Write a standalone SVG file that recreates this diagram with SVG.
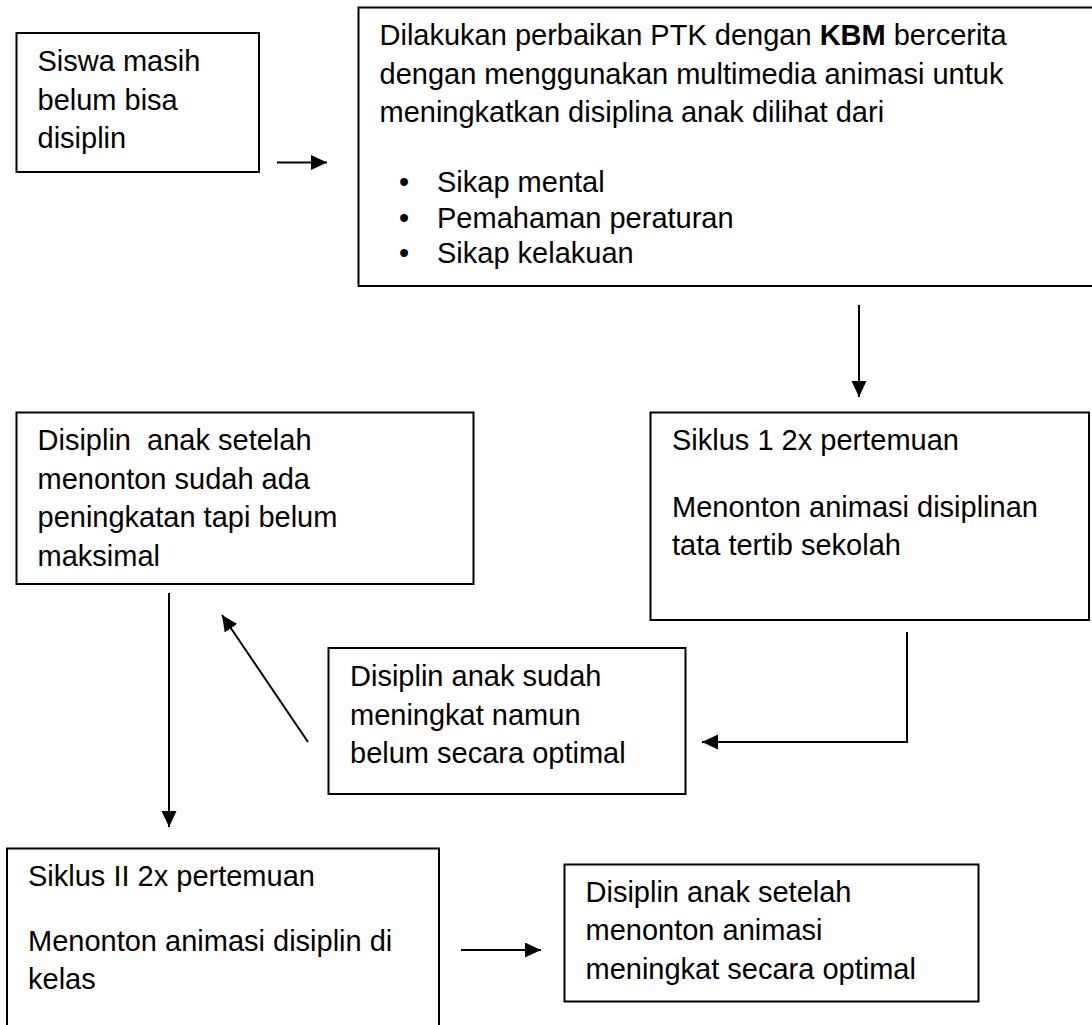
<svg xmlns="http://www.w3.org/2000/svg" width="1092" height="1025" viewBox="0 0 1092 1025">
<defs>
<style>
.box{fill:#fff;stroke:#000;stroke-width:2}
.t{font-family:"Liberation Sans",Arial,sans-serif;font-size:29px;fill:#000;white-space:pre}
.b{font-weight:bold}
.c{fill:none;stroke:#000;stroke-width:2}
</style>
<marker id="ah" markerUnits="userSpaceOnUse" markerWidth="18" markerHeight="18" refX="16" refY="7.5" orient="auto">
<path d="M0,0 L16,7.5 L0,15 Z" fill="#000"/>
</marker>
</defs>
<rect width="1092" height="1025" fill="#fff"/>
<g id="n1">
<rect class="box" x="16.5" y="33" width="242.5" height="139"/>
<text class="t" x="37.5" y="71">Siswa masih</text>
<text class="t" x="37.5" y="109.5">belum bisa</text>
<text class="t" x="37.5" y="148">disiplin</text>
</g>
<g id="n2">
<rect class="box" x="358.5" y="7.5" width="740" height="278.5"/>
<text class="t" x="379.5" y="45">Dilakukan perbaikan PTK dengan <tspan class="b">KBM</tspan> bercerita</text>
<text class="t" x="379.5" y="83.5">dengan menggunakan multimedia animasi untuk</text>
<text class="t" x="379.5" y="122">meningkatkan disiplina anak dilihat dari</text>
<text class="t" x="399" y="192">•</text>
<text class="t" x="437" y="192">Sikap mental</text>
<text class="t" x="399" y="227.5">•</text>
<text class="t" x="437" y="227.5">Pemahaman peraturan</text>
<text class="t" x="399" y="263">•</text>
<text class="t" x="437" y="263">Sikap kelakuan</text>
</g>
<g id="n3">
<rect class="box" x="650.5" y="412.5" width="438.5" height="207.5"/>
<text class="t" x="672" y="450">Siklus 1 2x pertemuan</text>
<text class="t" x="672" y="516.5">Menonton animasi disiplinan</text>
<text class="t" x="672" y="555">tata tertib sekolah</text>
</g>
<g id="n4">
<rect class="box" x="16.5" y="412.5" width="457" height="171.5"/>
<text class="t" x="37.5" y="450">Disiplin  anak setelah</text>
<text class="t" x="37.5" y="488.5">menonton sudah ada</text>
<text class="t" x="37.5" y="527">peningkatan tapi belum</text>
<text class="t" x="37.5" y="565.5">maksimal</text>
</g>
<g id="n5">
<rect class="box" x="328.5" y="648" width="357" height="146"/>
<text class="t" x="350" y="686">Disiplin anak sudah</text>
<text class="t" x="350" y="724.5">meningkat namun</text>
<text class="t" x="350" y="762.5">belum secara optimal</text>
</g>
<g id="n6">
<rect class="box" x="7" y="848.5" width="432" height="190"/>
<text class="t" x="28" y="886">Siklus II 2x pertemuan</text>
<text class="t" x="28" y="951">Menonton animasi disiplin di</text>
<text class="t" x="28" y="988.5">kelas</text>
</g>
<g id="n7">
<rect class="box" x="564.5" y="864.5" width="414" height="137"/>
<text class="t" x="585.5" y="901.5">Disiplin anak setelah</text>
<text class="t" x="585.5" y="939.5">menonton animasi</text>
<text class="t" x="585.5" y="979">meningkat secara optimal</text>
</g>
<g id="connectors">
<path class="c" d="M277,162.5 L327,162.5" marker-end="url(#ah)"/>
<path class="c" d="M859,305 L859,397" marker-end="url(#ah)"/>
<path class="c" d="M907,632 L907,742 L702,742" marker-end="url(#ah)"/>
<path class="c" d="M308,742 L222,615" marker-end="url(#ah)"/>
<path class="c" d="M169,593 L169,827" marker-end="url(#ah)"/>
<path class="c" d="M461,950 L541,950" marker-end="url(#ah)"/>
</g>
</svg>
